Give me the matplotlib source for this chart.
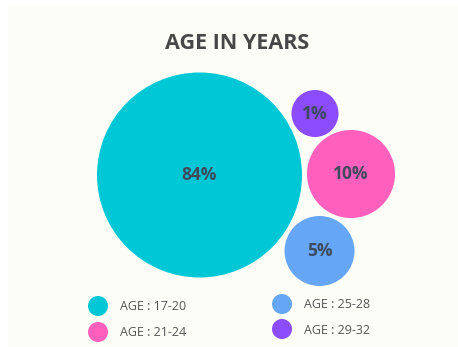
import matplotlib
matplotlib.use("Agg")
import matplotlib.pyplot as plt
from matplotlib.patches import Circle, Rectangle

# Data
age_groups = ["AGE : 17-20", "AGE : 21-24", "AGE : 25-28", "AGE : 29-32"]
shares = [84, 10, 5, 1]
colors = ["#00c7d6", "#ff5fbd", "#66a6f6", "#8b4cfb"]

# Bubble layout (pixel coords, y downward)
centers = [(199.5, 175), (351, 174), (319.5, 251), (315, 113.5)]
radii = [102.5, 44, 35, 23.5]

# Legend layout
legend_pos = [(98, 306), (98, 332), (282, 304), (282, 329)]

plt.rcParams['font.family'] = ['Open Sans', 'DejaVu Sans']

W, H = 458, 347
fig = plt.figure(figsize=(W / 100, H / 100), dpi=100)
fig.patch.set_facecolor("white")
ax = fig.add_axes([0, 0, 1, 1])
ax.set_xlim(0, W)
ax.set_ylim(H, 0)
ax.set_aspect("equal")
ax.axis("off")

# Cream panel
ax.add_patch(Rectangle((8, 7), W - 8, H - 7, facecolor="#fcfdf6", edgecolor="none"))

ax.text(237, 43, "AGE IN YEARS", ha="center", va="center",
        fontsize=15.5, fontweight="bold", color="#474747")

for (cx, cy), r, c, v in zip(centers, radii, colors, shares):
    ax.add_patch(Circle((cx, cy), r, facecolor=c, edgecolor="none"))
    ax.text(cx, cy, f"{v}%", ha="center", va="center",
            fontsize=12.5, fontweight="bold", color="#3e4a5e")

for (mx, my), c, lab in zip(legend_pos, colors, age_groups):
    ax.add_patch(Circle((mx, my), 10, facecolor=c, edgecolor="none"))
    ax.text(mx + 22, my + 1, lab, ha="left", va="center",
            fontsize=9, color="#555555")

fig.savefig("out.png", dpi=100)
